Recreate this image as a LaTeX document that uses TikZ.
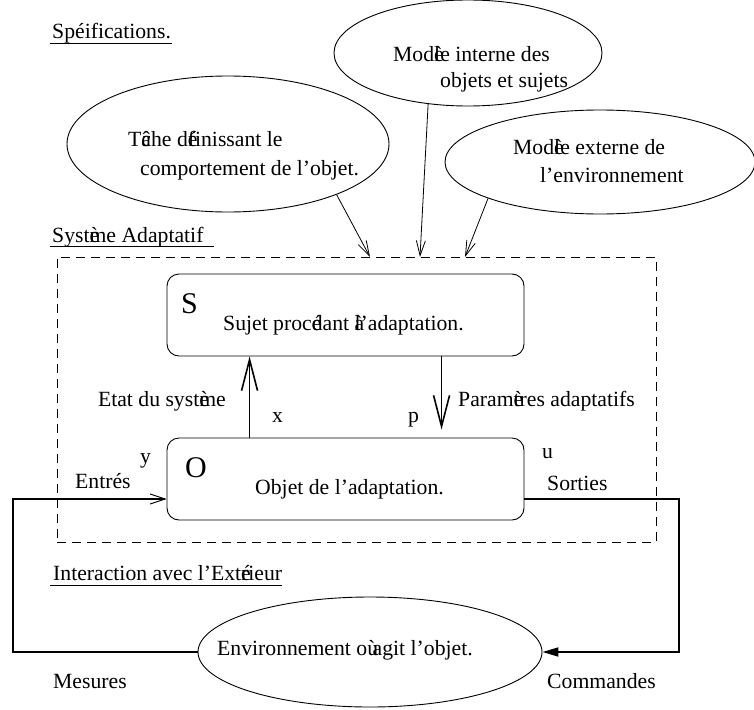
\documentclass[tikz,border=0pt]{standalone}
\usepackage{fontspec}
\setmainfont{Liberation Serif}
\usetikzlibrary{arrows.meta,shapes.geometric}
\begin{document}
\begin{tikzpicture}[x=1pt,y=-1pt,
  txt/.style={font=\fontsize{21.7}{26}\selectfont, inner sep=0pt},
  bigletter/.style={font=\fontsize{30}{36}\selectfont, inner sep=0pt},
  ell/.style={draw, ellipse, inner sep=0pt, line width=0.9pt},
  rbox/.style={draw, rounded corners=12pt, inner sep=0pt, line width=0.9pt},
  dbox/.style={draw, dash pattern=on 9pt off 6pt, inner sep=0pt, line width=0.8pt},
  thinarrow/.style={line width=0.8pt, -{Straight Barb[length=15pt,width=9pt]}},
  bigarrow/.style={line width=1.6pt, -{Straight Barb[length=31pt,width=16pt]}},
  loopline/.style={line width=1.8pt},
  uline/.style={line width=0.9pt}]
\useasboundingbox (0,0) rectangle (754,709);

% section titles
\node[txt, anchor=base west] (tspec) at (52,38) {Spéifications.};
\draw[uline] ([xshift=-2pt,yshift=-5pt]tspec.base west) -- ([xshift=1pt,yshift=-5pt]tspec.base east);
\node[txt, anchor=base west] (tsys) at (52,242) {Syst\rlap{è}me Adaptatif};
\draw[uline] ([xshift=-2pt,yshift=-4pt]tsys.base west) -- ([xshift=10pt,yshift=-4pt]tsys.base east);
\node[txt, anchor=base west] (tint) at (53,580) {Interaction avec l’Ext\rlap{é}rieur};
\draw[uline] ([xshift=-3pt,yshift=-5pt]tint.base west) -- ([xshift=0pt,yshift=-5pt]tint.base east);

% specification ellipses
\node[ell, minimum width=268pt, minimum height=106pt] (eTop) at (468,53) {};
\node[txt, anchor=base west] (eTop1) at (393,61) {Mod\rlap{è}le interne des};
\node[txt, anchor=base west] (eTop2) at (440,87) {objets et sujets};

\node[ell, minimum width=322pt, minimum height=136pt] (eLeft) at (228,144) {};
\node[txt, anchor=base west] (eLeft1) at (128,146) {T\rlap{â}che d\rlap{é}finissant le};
\node[txt, anchor=base west] (eLeft2) at (140,175) {comportement de l’objet.};

\node[ell, minimum width=310pt, minimum height=104pt] (eRight) at (600,162) {};
\node[txt, anchor=base west] (eRight1) at (513,154) {Mod\rlap{è}le externe de};
\node[txt, anchor=base west] (eRight2) at (540,182) {l’environnement};

% adaptive system
\node[dbox, minimum width=599pt, minimum height=285pt] (sys) at (356.5,399.5) {};
\coordinate (a1) at (370,257);
\coordinate (a2) at (420,257);
\coordinate (a3) at (465,257);
\draw[thinarrow] (eLeft.-25) -- (a1);
\draw[thinarrow] (eTop.-128) -- (a2);
\draw[thinarrow] (eRight.-162) -- (a3);

\node[rbox, minimum width=357pt, minimum height=82pt] (S) at (345.5,315) {};
\node[bigletter, anchor=base west] (Slab) at (181,313) {S};
\node[txt, anchor=base west] (Stxt) at (223,330) {Sujet proc\rlap{é}dant \rlap{à}l’adaptation.};

\node[rbox, minimum width=357pt, minimum height=82pt] (O) at (345.5,479) {};
\node[bigletter, anchor=base west] (Olab) at (185,477) {O};
\node[txt, anchor=base west] (Otxt) at (255,494) {Objet de l’adaptation.};

\draw[bigarrow] ([xshift=83pt]O.north west) -- ([xshift=83pt]S.south west);
\draw[bigarrow] ([xshift=275pt]S.south west) -- ([xshift=275pt,yshift=8pt]O.north west);

\node[txt, anchor=base east] (etat) at (226,406) {Etat du syst\rlap{è}me};
\node[txt, anchor=base west] (xl) at (272,422) {x};
\node[txt, anchor=base west] (pl) at (408,422) {p};
\node[txt, anchor=base west] (param) at (458,406) {Param\rlap{è}tres adaptatifs};

\node[txt, anchor=base west] (yl) at (140,463) {y};
\node[txt, anchor=base west] (entr) at (75,488) {Entrés};
\node[txt, anchor=base west] (ul) at (542,458) {u};
\node[txt, anchor=base west] (sort) at (547,490) {Sorties};

% environment
\node[ell, minimum width=344pt, minimum height=110pt] (Env) at (370,652) {};
\node[txt, anchor=base west] (Envtxt) at (217,655) {Environnement o\rlap{ù} agit l’objet.};
\node[txt, anchor=base west] (mes) at (53,688) {Mesures};
\node[txt, anchor=base west] (com) at (547,688) {Commandes};

\coordinate (l1) at (13,652);
\coordinate (l2) at (13,499);
\coordinate (r1) at (679,499);
\coordinate (r2) at (679,652);
\draw[loopline, -{Straight Barb[length=15pt,width=10pt,line width=0.9pt]}] (Env.west) -- (l1) -- (l2) -- ([yshift=-20pt]O.west);
\draw[loopline, -{Triangle[length=16pt,width=9pt]}] ([yshift=-20pt]O.east) -- (r1) -- (r2) -- (Env.east);
\end{tikzpicture}
\end{document}
